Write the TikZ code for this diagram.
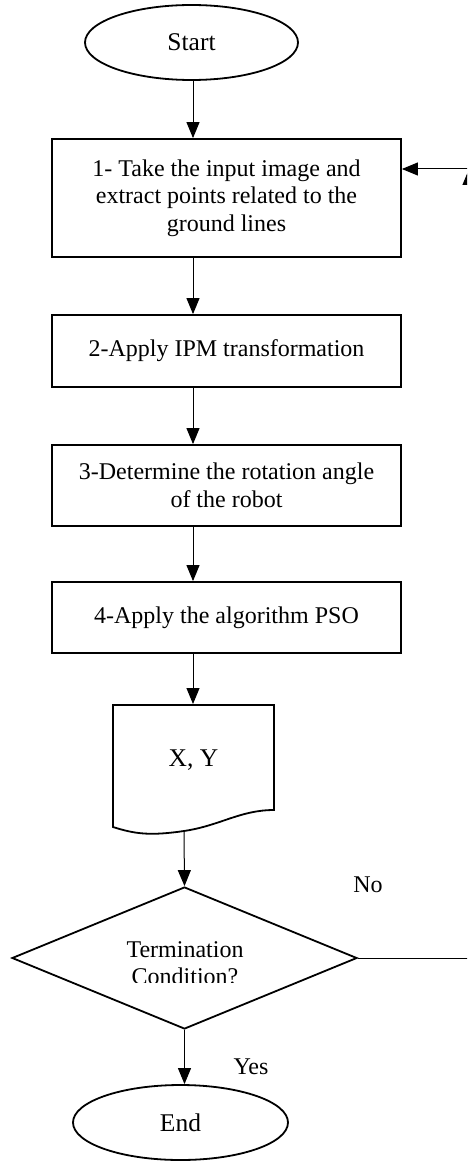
\documentclass[tikz,border=0pt]{standalone}
\usepackage{fontspec}
\setmainfont{Liberation Serif}
\usetikzlibrary{shapes.geometric,arrows.meta}
\begin{document}
\begin{tikzpicture}[x=1pt,y=-1pt,
  every node/.style={font=\fontsize{24}{27.5}\selectfont},
  box/.style={draw,line width=1.8pt,rectangle,inner sep=0pt,align=center},
  term/.style={draw,line width=1.8pt,ellipse,inner sep=0pt,font=\fontsize{25.5}{30}\selectfont},
  arr/.style={line width=1pt,-{Triangle[length=16pt,width=13pt]}},
  ln/.style={line width=1pt},
  lbl/.style={inner sep=0pt}]
\clip (0,0) rectangle (467,1161);
\coordinate (col) at (193,0);
\node[term,minimum width=213pt,minimum height=75pt] (start) at (191.5,42.5) {Start};
\node[box,minimum width=349pt,minimum height=118pt] (b1) at (226.5,198) {1- Take the input image and\\extract points related to the\\ground lines};
\node[box,minimum width=349pt,minimum height=72pt] (b2) at (226.5,351) {2-Apply IPM transformation};
\node[box,minimum width=349pt,minimum height=81pt] (b3) at (226.5,485.5) {3-Determine the rotation angle\\of the robot};
\node[box,minimum width=349pt,minimum height=71pt] (b4) at (226.5,617.5) {4-Apply the algorithm PSO};
% document shape
\draw[line width=1.8pt] (113,705) -- (274,705) -- (274,810)
  .. controls (240,810) and (220,825.7) .. (184,831)
  .. controls (150,836) and (135,834) .. (113,827) -- cycle;
\coordinate (doct) at (193,704);
\coordinate (docb) at (184,831);
\node[font=\fontsize{25.5}{30}\selectfont] (xy) at (193.5,760) {X, Y};
\node[draw,diamond,line width=1.8pt,minimum width=345pt,minimum height=142pt,inner sep=0pt] (d) at (184.5,958) {};
\begin{scope}
\clip (0,0) rectangle (467,982);
\node[align=center] (dt) at (185,963) {Termination\\Condition?};
\end{scope}
\node[term,minimum width=215pt,minimum height=75pt] (end) at (180.5,1122.5) {End};
\node[lbl] (no) at (368,885) {No};
\node[lbl] (yes) at (251,1067) {Yes};
% connectors
\draw[arr] (start.south -| col) -- (b1.north -| col);
\draw[arr] (b1.south -| col) -- (b2.north -| col);
\draw[arr] (b2.south -| col) -- (b3.north -| col);
\draw[arr] (b3.south -| col) -- (b4.north -| col);
\draw[arr] (b4.south -| doct) -- (doct);
\draw[arr] (docb) -- (d.north);
\draw[arr] (d.south) -- (d.south |- end.north);
\coordinate (c1) at (469,958);
\coordinate (c2) at (469,169);
\draw[ln] (d.east) -- (c1);
\draw[arr] (c1) -- (c2);
\draw[arr] (c2) -- (c2 -| b1.east);
\end{tikzpicture}
\end{document}
